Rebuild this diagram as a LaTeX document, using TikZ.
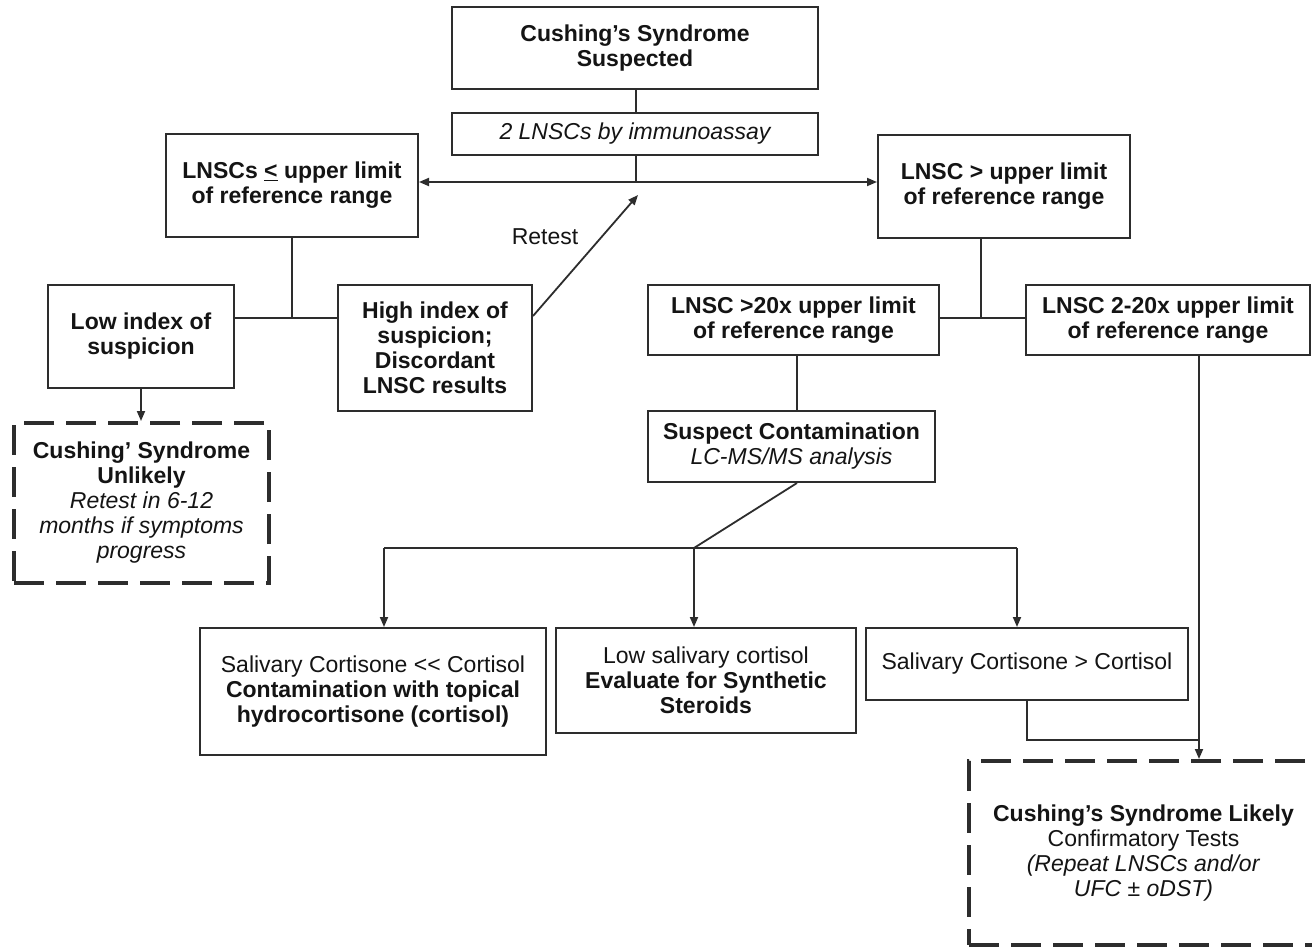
\documentclass[tikz,border=0pt]{standalone}
\usepackage{fontspec}
\setmainfont{Liberation Sans}
\usetikzlibrary{arrows.meta,calc}
\definecolor{ln}{RGB}{45,45,45}
\definecolor{txt}{RGB}{20,20,20}
\begin{document}
\begin{tikzpicture}[x=1pt,y=-1pt,
  every node/.style={font=\fontsize{23}{25}\selectfont, text=txt},
  box/.style={draw=ln, line width=2pt, align=center, inner sep=0pt},
  dbox/.style={draw=ln, line width=4pt, dash pattern=on 30pt off 12pt, align=center, inner sep=0pt},
  bf/.style={font=\fontsize{23}{25}\selectfont\bfseries},
  it/.style={font=\fontsize{23}{25}\selectfont\itshape},
  conn/.style={draw=ln, line width=1.8pt},
  arr/.style={conn, -{Triangle[length=10pt,width=8pt]}},
]
\useasboundingbox[fill=white] (0,0) rectangle (1312,950);

% nodes
\node[box, bf, minimum width=366, minimum height=82] (cs) at (635,48) {Cushing’s Syndrome\\Suspected};
\node[box, it, minimum width=366, minimum height=42] (imm) at (635,134) {2 LNSCs by immunoassay};
\node[box, bf, minimum width=252, minimum height=103] (le) at (292,185) {LNSCs \underline{<} upper limit\\of reference range};
\node[box, bf, minimum width=252, minimum height=103] (gt) at (1004,186) {LNSC > upper limit\\of reference range};
\node[box, bf, minimum width=186, minimum height=103] (low) at (141,336) {Low index of\\suspicion};
\node[box, bf, minimum width=194, minimum height=126] (high) at (435,348) {High index of\\suspicion;\\Discordant\\LNSC results};
\node[dbox, minimum width=255, minimum height=160] (unl) at (141.5,503) {\textbf{Cushing' Syndrome}\\\textbf{Unlikely}\\\textit{Retest in 6-12}\\\textit{months if symptoms}\\\textit{progress}};
\node[box, bf, minimum width=291, minimum height=70] (g20) at (793.5,320) {LNSC >20x upper limit\\of reference range};
\node[box, bf, minimum width=284, minimum height=70] (g2) at (1168,320) {LNSC 2-20x upper limit\\of reference range};
\node[box, minimum width=287, minimum height=71] (susp) at (791.5,446.5) {\textbf{Suspect Contamination}\\\textit{LC-MS/MS analysis}};
\node[box, minimum width=346, minimum height=127] (b1) at (373,691.5) {Salivary Cortisone <\kern0pt< Cortisol\\\textbf{Contamination with topical}\\\textbf{hydrocortisone (cortisol)}};
\node[box, minimum width=300, minimum height=105] (b2) at (706,680.5) {Low salivary cortisol\\\textbf{Evaluate for Synthetic}\\\textbf{Steroids}};
\node[box, minimum width=322, minimum height=72] (b3) at (1027,664) {Salivary Cortisone > Cortisol};
\node[dbox, minimum width=349, minimum height=184] (lik) at (1143.5,853) {\textbf{Cushing’s Syndrome Likely}\\Confirmatory Tests\\\textit{(Repeat LNSCs and/or}\\\textit{UFC ± oDST)}};
\node (retest) at (545,237) {Retest};

% connectors
\coordinate (j1) at (636,182);
\draw[conn] (cs.south -| j1) -- (imm.north -| j1);
\draw[conn] (imm.south -| j1) -- (j1);
\draw[arr] (j1) -- (j1 -| le.east);
\draw[arr] (j1) -- (j1 -| gt.west);

\coordinate (j3) at (292,318);
\draw[conn] (le.south -| j3) -- (j3);
\draw[conn] (j3 -| low.east) -- (j3 -| high.west);
\draw[arr] (low.south) -- (low.south |- unl.north);
\coordinate (rt) at (638,195);
\draw[arr] ($(high.north east)!0.25!(high.south east)$) -- (rt);

\coordinate (j4) at (981,318);
\draw[conn] (gt.south -| j4) -- (j4);
\draw[conn] (j4 -| g20.east) -- (j4 -| g2.west);
\coordinate (j5) at (797,383);
\draw[conn] (g20.south -| j5) -- (susp.north -| j5);
\coordinate (j2) at (694,548);
\draw[conn] (susp.south -| j5) -- (j2);
\coordinate (a1) at (384,548);
\coordinate (a3) at (1017,548);
\draw[conn] (a1) -- (a3);
\draw[arr] (a1) -- (a1 |- b1.north);
\draw[arr] (j2) -- (j2 |- b2.north);
\draw[arr] (a3) -- (a3 |- b3.north);
\coordinate (a4) at (1199,740);
\draw[arr] (g2.south -| a4) -- (a4 |- lik.north);
\draw[conn] (b3.south) |- (a4);
\end{tikzpicture}
\end{document}
